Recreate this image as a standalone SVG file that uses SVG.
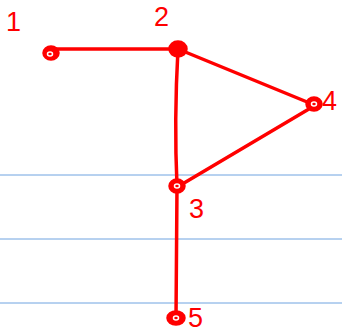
<svg xmlns="http://www.w3.org/2000/svg" width="342" height="334" viewBox="0 0 342 334">
<style>
.rule{stroke:#6fa3e0;stroke-width:1}
.edge{stroke:#ff0000;stroke-width:3.5;fill:none;stroke-linecap:round}
.node{fill:#ff0000;stroke:#ff0000;stroke-width:3.5}
.hole{fill:none;stroke:#ffffff;stroke-width:1.5}
.lbl{font-family:"Liberation Sans",Arial,sans-serif;font-size:27px;fill:#ff0000}
</style>
<rect width="342" height="334" fill="#ffffff"/>
<g id="rules">
<line class="rule" x1="0" y1="175" x2="342" y2="175"/>
<line class="rule" x1="0" y1="239" x2="342" y2="239"/>
<line class="rule" x1="0" y1="303" x2="342" y2="303"/>
</g>
<g id="connectors">
<path class="edge" d="M56,49 L172,49"/>
<path class="edge" d="M178,49 L312,104"/>
<path class="edge" d="M178,49 Q174,120 177,186"/>
<path class="edge" d="M314,106 L179,186"/>
<path class="edge" d="M177,186 L176,318"/>
</g>
<g id="n1"><ellipse class="node" cx="51" cy="53" rx="7" ry="6"/><ellipse class="hole" cx="50" cy="54" rx="2.5" ry="2"/><text class="lbl" x="6" y="31">1</text></g>
<g id="n2"><ellipse class="node" cx="178" cy="49" rx="8" ry="7"/><text class="lbl" x="154" y="26">2</text></g>
<g id="n4"><ellipse class="node" cx="314" cy="104" rx="7" ry="6"/><ellipse class="hole" cx="314" cy="104" rx="2.5" ry="2"/><text class="lbl" x="322" y="110">4</text></g>
<g id="n3"><ellipse class="node" cx="177" cy="186" rx="7" ry="6"/><ellipse class="hole" cx="177" cy="186" rx="2.5" ry="2"/><text class="lbl" x="189" y="218">3</text></g>
<g id="n5"><ellipse class="node" cx="176" cy="318" rx="8" ry="6"/><ellipse class="hole" cx="176" cy="318" rx="2.5" ry="2"/><text class="lbl" x="188" y="327">5</text></g>
</svg>
